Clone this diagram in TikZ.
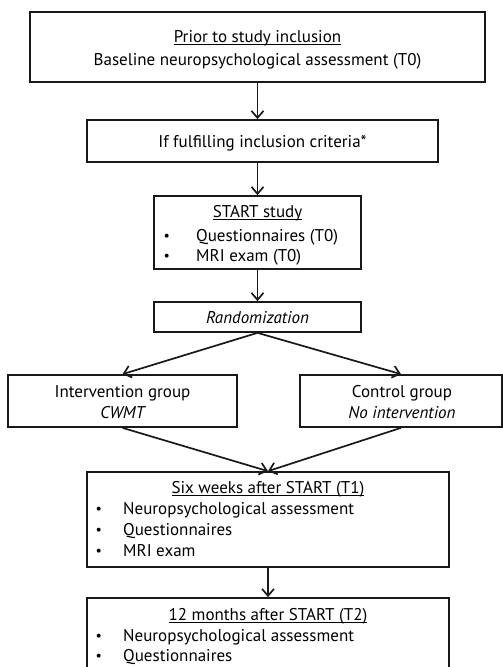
\documentclass[tikz,border=0pt]{standalone}
\usepackage{fontspec}
\setmainfont{PT Sans}
\usetikzlibrary{arrows.meta}
\newcommand{\myul}[1]{\setbox0=\hbox{#1}\rlap{\rule[-2.6bp]{\wd0}{0.8bp}}\box0}
\newcommand{\mybul}{\raisebox{0.8bp}{\fontsize{14bp}{14bp}\selectfont\textbullet}}
\begin{document}
\begin{tikzpicture}[x=1bp,y=-1bp,
  font=\fontsize{17bp}{20bp}\selectfont,
  box/.style={draw=black!90, line width=1.7bp, inner sep=0pt},
  txt/.style={anchor=base, inner sep=0pt},
  ltxt/.style={anchor=base west, inner sep=0pt},
  arr/.style={-{Straight Barb[length=7bp,width=12bp]}, line width=1.7bp, draw=black!90}]
\useasboundingbox (0,0) rectangle (503,667);
\clip (0,0) rectangle (503,667);
\fill[white] (0,0) rectangle (503,667);
% boxes
\node[box, minimum width=455bp, minimum height=70bp] (b1) at (257.5,47) {};
\node[box, minimum width=351bp, minimum height=42bp] (b2) at (262.5,141) {};
\node[box, minimum width=207bp, minimum height=73bp] (b3) at (257.5,232.5) {};
\node[box, minimum width=207bp, minimum height=30bp] (rand) at (257.5,317) {};
\node[box, minimum width=229bp, minimum height=52bp] (int) at (122.5,401) {};
\node[box, minimum width=202bp, minimum height=52bp] (ctl) at (401,401) {};
\node[box, minimum width=362bp, minimum height=95bp] (six) at (268,519.5) {};
\node[box, minimum width=362bp, minimum height=110bp] (twelve) at (268,653) {};
% texts
\node[txt] (t1a) at (257.5,42.5) {\myul{Prior to study inclusion}};
\node[txt] (t1b) at (257.5,65.5) {Baseline neuropsychological assessment (T0)};
\node[txt] (t2) at (262.5,147.5) {If fulfilling inclusion criteria*};
\node[txt] (t3a) at (257.5,217.5) {\myul{START study}};
\node[ltxt] (t3b0) at (163.5,241) {\mybul};
\node[ltxt] (t3b) at (196,241.5) {Questionnaires (T0)};
\node[ltxt] (t3c0) at (163.5,261) {\mybul};
\node[ltxt] (t3c) at (196,261.5) {MRI exam (T0)};
\node[txt] (tr) at (257.5,323.5) {\itshape Randomization};
\node[txt] (ti1) at (122.5,397.5) {Intervention group};
\node[txt] (ti2) at (122.5,418.5) {\itshape CWMT};
\node[txt] (tc1) at (402,397.5) {Control group};
\node[txt] (tc2) at (402,418.5) {\itshape No intervention};
\node[txt] (t6a) at (268,493.5) {\myul{Six weeks after START (T1)}};
\node[ltxt] (t6b0) at (95.5,514) {\mybul};
\node[ltxt] (t6b) at (123,514.5) {Neuropsychological assessment};
\node[ltxt] (t6c0) at (95.5,535) {\mybul};
\node[ltxt] (t6c) at (123,535.5) {Questionnaires};
\node[ltxt] (t6d0) at (95.5,556) {\mybul};
\node[ltxt] (t6d) at (123,556.5) {MRI exam};
\node[txt] (t12a) at (268,620.5) {\myul{12 months after START (T2)}};
\node[ltxt] (t12b0) at (95.5,641) {\mybul};
\node[ltxt] (t12b) at (123,641.5) {Neuropsychological assessment};
\node[ltxt] (t12c0) at (95.5,661) {\mybul};
\node[ltxt] (t12c) at (123,661.5) {Questionnaires};
% arrows
\draw[arr] (b1.south) -- (b1.south |- b2.north);
\draw[arr] (b3.north |- b2.south) -- (b3.north);
\draw[arr] (b3.south) -- (rand.north);
\draw[arr] (rand.south) -- (int.north);
\draw[arr] (rand.south) -- (ctl.north);
\draw[arr] (int.south) -- (six.north);
\draw[arr] (ctl.south) -- (six.north);
\draw[arr] (six.south) -- (twelve.north);
\end{tikzpicture}
\end{document}
